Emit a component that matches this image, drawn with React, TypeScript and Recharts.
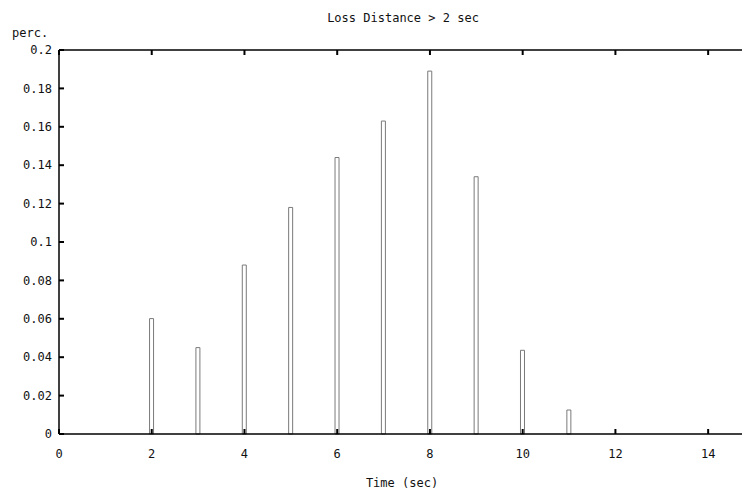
import React from 'react';
import { BarChart, Bar, XAxis, YAxis } from 'recharts';

const times = [2, 3, 4, 5, 6, 7, 8, 9, 10, 11];
const perc = [0.0601, 0.045, 0.088, 0.118, 0.144, 0.163, 0.189, 0.134, 0.0436, 0.0125];
const xTicks = [0, 2, 4, 6, 8, 10, 12, 14];
const yTicks = [0, 0.02, 0.04, 0.06, 0.08, 0.1, 0.12, 0.14, 0.16, 0.18, 0.2];

const data = times.map((t, i) => ({ t, v: perc[i] }));

const font = '"DejaVu Sans Mono", monospace';
const tickStyle = { fontFamily: font, fontSize: 12, fill: '#111' };
const axisLine = { stroke: '#000', strokeWidth: 1.5 };
const tickLine = { stroke: '#000', strokeWidth: 2 };

const textStyle: React.CSSProperties = {
  position: 'absolute',
  fontFamily: font,
  fontSize: 12,
  color: '#111',
  whiteSpace: 'nowrap',
  lineHeight: '14px',
};

export default function App() {
  return (
    <div style={{ position: 'absolute', left: 0, top: 0, width: 742, height: 490, background: '#fff' }}>
      <BarChart
        width={742}
        height={490}
        data={data}
        margin={{ top: 20, right: 0, left: 0, bottom: 0 }}
      >
        <XAxis
          dataKey="t"
          type="number"
          domain={[0, 14.73]}
          ticks={xTicks}
          allowDataOverflow
          height={56}
          tickSize={-5}
          tickMargin={20}
          tick={tickStyle}
          axisLine={axisLine}
          tickLine={tickLine}
        />
        {/* mirrored top border with inward ticks, no labels */}
        <XAxis
          xAxisId="top"
          orientation="top"
          dataKey="t"
          type="number"
          domain={[0, 14.73]}
          ticks={xTicks}
          allowDataOverflow
          height={30}
          tickSize={-5}
          tick={tickStyle}
          tickFormatter={() => ''}
          axisLine={axisLine}
          tickLine={tickLine}
        />
        <YAxis
          type="number"
          domain={[0, 0.2]}
          ticks={yTicks}
          width={59}
          tickSize={-5}
          tickMargin={12}
          tick={tickStyle}
          tickFormatter={(v: number) => String(+v.toFixed(2))}
          axisLine={axisLine}
          tickLine={tickLine}
        />
        <Bar
          dataKey="v"
          barSize={4}
          fill="#fff"
          stroke="#7a7a7a"
          strokeWidth={1}
          isAnimationActive={false}
        />
      </BarChart>
      <div style={{ ...textStyle, left: 403, top: 11, transform: 'translateX(-50%)' }}>
        Loss Distance &gt; 2 sec
      </div>
      <div style={{ ...textStyle, left: 12, top: 26 }}>perc.</div>
      <div style={{ ...textStyle, left: 402, top: 476, transform: 'translateX(-50%)' }}>
        Time (sec)
      </div>
    </div>
  );
}
